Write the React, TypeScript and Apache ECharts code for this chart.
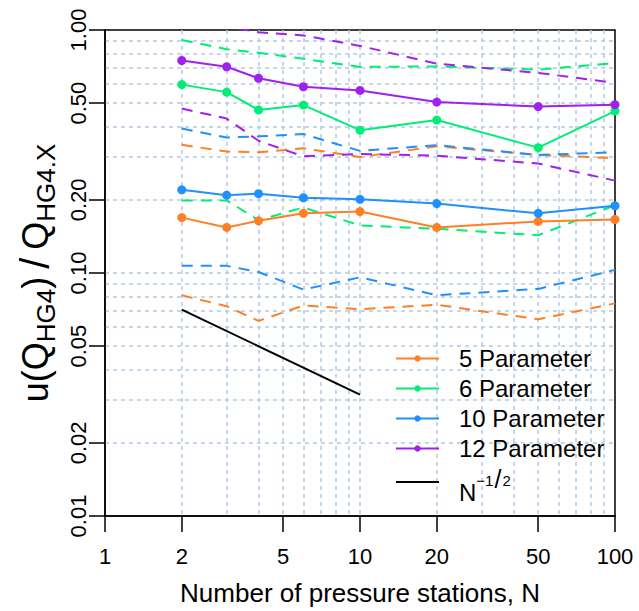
import React, { useEffect, useRef } from 'react';
import * as echarts from 'echarts';

// ---- data ----
const stations = [2, 3, 4, 6, 10, 20, 50, 100];

const p5 = [0.169, 0.154, 0.164, 0.176, 0.179, 0.154, 0.163, 0.166];
const p5Upper = [0.337, 0.316, 0.314, 0.326, 0.3, 0.332, 0.306, 0.297];
const p5Lower = [0.081, 0.073, 0.0635, 0.0735, 0.071, 0.074, 0.0645, 0.075];

const p6 = [0.596, 0.555, 0.469, 0.491, 0.387, 0.426, 0.328, 0.464];
const p6Upper = [0.91, 0.834, 0.806, 0.761, 0.705, 0.708, 0.687, 0.731];
const p6Lower = [0.199, 0.199, 0.165, 0.186, 0.157, 0.152, 0.143, 0.19];

const p10 = [0.22, 0.209, 0.212, 0.204, 0.201, 0.193, 0.176, 0.189];
const p10Upper = [0.393, 0.361, 0.365, 0.373, 0.318, 0.336, 0.306, 0.314];
const p10Lower = [0.107, 0.107, 0.101, 0.0855, 0.096, 0.081, 0.086, 0.103];

const p12 = [0.749, 0.706, 0.633, 0.584, 0.564, 0.505, 0.484, 0.493];
const p12Upper = [1.08, 1.035, 0.978, 0.95, 0.86, 0.727, 0.666, 0.606];
const p12Lower = [0.475, 0.432, 0.35, 0.302, 0.309, 0.304, 0.282, 0.24];

const refStations = [2, 10];
const refValues = [0.0707, 0.0316];

const xTickLabels = [1, 2, 5, 10, 20, 50, 100];
const yTickLabels = [0.01, 0.02, 0.05, 0.1, 0.2, 0.5, 1];
const xGridValues = [2, 3, 4, 5, 6, 7, 8, 9, 10, 20, 30, 40, 50, 60, 70, 80, 90];
const yGridValues = [0.02, 0.03, 0.04, 0.05, 0.06, 0.07, 0.08, 0.09, 0.1, 0.2, 0.3, 0.4, 0.5, 0.6, 0.7, 0.8, 0.9];

const seriesNames = ['5 Parameter', '6 Parameter', '10 Parameter', '12 Parameter'];
const refName = 'Nref';

const COLORS = {
  p5: '#FF7F24',
  p6: '#00EE76',
  p10: '#1E90FF',
  p12: '#A020F0',
};

const FONT = '"Liberation Sans", Arial, Helvetica, sans-serif';
const lg = (v: number) => Math.log10(v);
const toPts = (xs: number[], ys: number[]) => xs.map((x, i) => [lg(x), lg(ys[i])]);

const solid = (name: string, color: string, vals: number[]) => ({
  name,
  type: 'line',
  data: toPts(stations, vals),
  symbol: 'circle',
  symbolSize: 9,
  lineStyle: { color, width: 2 },
  itemStyle: { color },
  z: 4,
});

const dashed = (name: string, color: string, vals: number[]) => ({
  name,
  type: 'line',
  data: toPts(stations, vals),
  symbol: 'none',
  lineStyle: { color, width: 2, type: [11, 8] },
  itemStyle: { color },
  z: 3,
});

export default function App() {
  const ref = useRef<HTMLDivElement>(null);

  useEffect(() => {
    if (!ref.current) return;
    const chart = echarts.init(ref.current, undefined, { renderer: 'svg' });
    const gridLine = { show: true, lineStyle: { color: '#B4C9E8', width: 1.5, type: [4, 4] } };
    const axisBlack = { color: '#000', width: 1.5 };

    const option: any = {
      animation: false,
      backgroundColor: '#fff',
      textStyle: { fontFamily: FONT, color: '#000' },
      grid: {
        left: 105, right: 24, top: 30, bottom: 92,
        show: true, borderColor: '#000', borderWidth: 1.5, backgroundColor: 'transparent',
      },
      legend: {
        orient: 'vertical',
        left: 395,
        top: 346.5,
        padding: 0,
        itemGap: 6,
        itemWidth: 43,
        itemHeight: 8,
        selectedMode: false,
        data: [
          ...seriesNames,
          { name: refName, itemStyle: { color: 'rgba(0,0,0,0)', borderWidth: 0, opacity: 0 } },
        ],
        formatter: (name: string) => (name === refName ? '{n|N}{s|\u22121}{sl|/}{s|2}' : name),
        textStyle: {
          fontFamily: FONT,
          fontSize: 24,
          lineHeight: 23,
          color: '#000',
          padding: [0, 0, 0, 15],
          rich: {
            n: { fontFamily: FONT, fontSize: 24, lineHeight: 23, verticalAlign: 'top', padding: [10, 0, 0, 0], color: '#000' },
            s: { fontFamily: FONT, fontSize: 15, lineHeight: 1, verticalAlign: 'top', padding: [2, 0, 0, 0], color: '#000' },
            sl: { fontFamily: FONT, fontSize: 25, lineHeight: 1, verticalAlign: 'top', padding: [-4, 1, 0, 1], color: '#000' },
          },
        },
      },
      xAxis: [
        {
          type: 'value', min: 0, max: 2, position: 'bottom',
          axisLine: { show: true, onZero: false, lineStyle: axisBlack },
          axisTick: { show: true, length: 16, lineStyle: axisBlack, customValues: xTickLabels.map(lg) },
          axisLabel: {
            customValues: xTickLabels.map(lg),
            formatter: (v: number) => String(Math.round(Math.pow(10, v))),
            fontSize: 22, color: '#000', margin: 29, fontFamily: FONT,
          },
          splitLine: { show: false },
          name: 'Number of pressure stations, N',
          nameLocation: 'middle',
          nameGap: 64,
          nameTextStyle: { fontSize: 26, lineHeight: 26, color: '#000', fontFamily: FONT },
        },
        {
          type: 'value', min: 0, max: 2, position: 'top',
          axisLine: { show: false, onZero: false },
          axisTick: { show: false, customValues: xGridValues.map(lg) },
          axisLabel: { show: false },
          splitLine: gridLine,
        },
      ],
      yAxis: [
        {
          type: 'value', min: -2, max: 0, position: 'left',
          axisLine: { show: true, onZero: false, lineStyle: axisBlack },
          axisTick: { show: true, length: 16, lineStyle: axisBlack, customValues: yTickLabels.map(lg) },
          axisLabel: {
            customValues: yTickLabels.map(lg),
            formatter: (v: number) => Math.pow(10, v).toFixed(2),
            rotate: 90, fontSize: 22, color: '#000', margin: 16, fontFamily: FONT,
          },
          splitLine: { show: false },
          name: '{m|u(Q}{s|HG4}{m|)}{sl|/}{m|Q}{s|HG4.X}',
          nameLocation: 'middle',
          nameRotate: 90,
          nameGap: 48,
          nameTextStyle: {
            color: '#000',
            fontFamily: FONT,
            rich: {
              m: { fontFamily: FONT, fontSize: 36, lineHeight: 36, verticalAlign: 'top', color: '#000' },
              s: { fontFamily: FONT, fontSize: 26, lineHeight: 1, verticalAlign: 'top', padding: [15.5, 0, 0, 0], color: '#000' },
              sl: { fontFamily: FONT, fontSize: 40, lineHeight: 1, verticalAlign: 'top', padding: [-2.5, 8, 0, 8], color: '#000' },
            },
          },
        },
        {
          type: 'value', min: -2, max: 0, position: 'right',
          axisLine: { show: false, onZero: false },
          axisTick: { show: false, customValues: yGridValues.map(lg) },
          axisLabel: { show: false },
          splitLine: gridLine,
        },
      ],
      series: [
        dashed('5 upper', COLORS.p5, p5Upper),
        dashed('5 lower', COLORS.p5, p5Lower),
        dashed('6 upper', COLORS.p6, p6Upper),
        dashed('6 lower', COLORS.p6, p6Lower),
        dashed('10 upper', COLORS.p10, p10Upper),
        dashed('10 lower', COLORS.p10, p10Lower),
        dashed('12 upper', COLORS.p12, p12Upper),
        dashed('12 lower', COLORS.p12, p12Lower),
        solid(seriesNames[0], COLORS.p5, p5),
        solid(seriesNames[1], COLORS.p6, p6),
        solid(seriesNames[2], COLORS.p10, p10),
        solid(seriesNames[3], COLORS.p12, p12),
        {
          name: refName,
          type: 'line',
          data: toPts(refStations, refValues),
          symbol: 'none',
          lineStyle: { color: '#000', width: 2 },
          itemStyle: { color: '#000' },
          z: 4,
        },
      ],
    };

    chart.setOption(option);
    return () => chart.dispose();
  }, []);

  return (
    <div
      ref={ref}
      style={{ position: 'absolute', left: 0, top: 0, width: 639, height: 611 }}
    />
  );
}
